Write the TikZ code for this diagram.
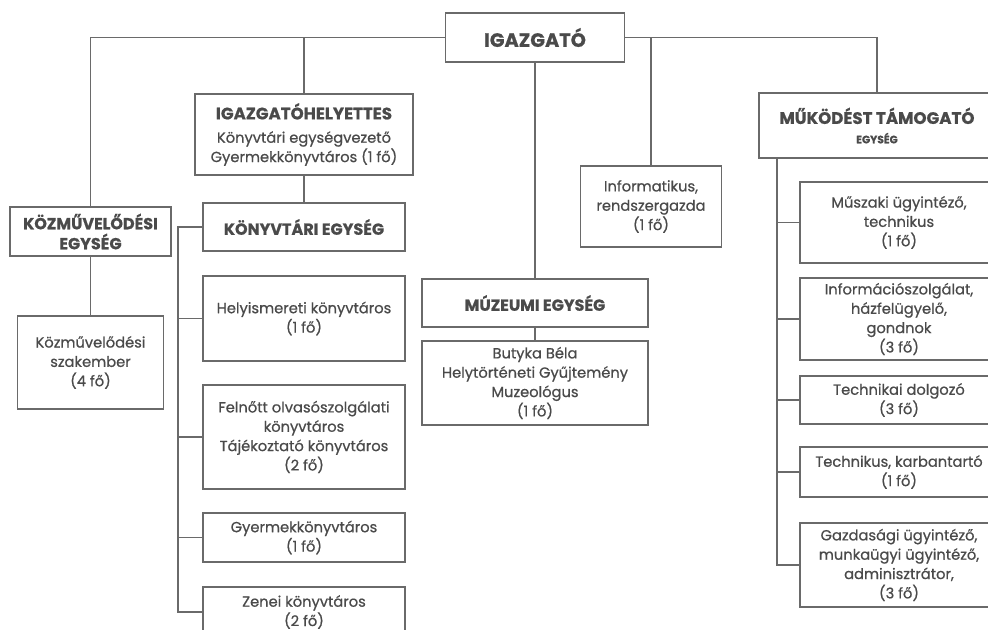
\documentclass[tikz,border=0pt]{standalone}
\usepackage{fontspec}
\setmainfont{Poppins}[FakeBold=0.7]
\definecolor{ln}{HTML}{6A6A6A}
\definecolor{tx}{HTML}{4A4A4A}
\tikzset{
  bx/.style 2 args={draw=ln, line width=1pt, rectangle, inner sep=0pt,
    minimum width=#1*0.75pt, minimum height=#2*0.75pt, align=center, text=tx,
    font=\fontsize{11}{14.5}\selectfont},
  hd/.style={font=\bfseries\fontsize{12}{15}\selectfont},
  conn/.style={draw=ln, line width=1pt}
}
\newcommand{\hdr}[1]{{\bfseries\fontsize{12.5}{15}\selectfont #1}}
\begin{document}
\begin{tikzpicture}[x=0.75pt,y=-0.75pt]
\clip (0,0) rectangle (988,629);
\fill[white] (0,0) rectangle (988,629);
% boxes
\node[bx={179}{49}, font=\bfseries\fontsize{14.5}{18}\selectfont] (igaz) at (535,37.5) {IGAZGATÓ};
\node[bx={218}{81}] (hely) at (304,134.5) {\hdr{IGAZGATÓHELYETTES}\\[3pt]Könyvtári egységvezető\\Gyermekkönyvtáros (1 fő)};
\node[bx={202}{48}, hd] (konyv) at (304,227) {KÖNYVTÁRI EGYSÉG};
\node[bx={161}{49}, hd] (kozm) at (90.5,231.5) {KÖZMŰVELŐDÉSI\\EGYSÉG};
\node[bx={146}{93}] (szak) at (90.5,362.5) {Közművelődési\\szakember\\(4 fő)};
\node[bx={202}{85}] (helyism) at (304,318.5) {Helyismereti könyvtáros\\(1 fő)};
\node[bx={202}{104}] (felnott) at (304,437) {Felnőtt olvasószolgálati\\könyvtáros\\Tájékoztató könyvtáros\\(2 fő)};
\node[bx={202}{49}] (gyermek) at (304,537.5) {Gyermekkönyvtáros\\(1 fő)};
\node[bx={202}{50}] (zenei) at (304,612) {Zenei könyvtáros\\(2 fő)};
\node[bx={226}{48}, hd] (muz) at (535,303) {MÚZEUMI EGYSÉG};
\node[bx={226}{84}] (buty) at (535,383) {Butyka Béla\\Helytörténeti Gyűjtemény\\Muzeológus\\(1 fő)};
\node[bx={141}{81}] (inf) at (651,206.5) {Informatikus,\\rendszergazda\\(1 fő)};
\node[bx={236}{65}] (muk) at (877,125.5) {\hdr{MŰKÖDÉST TÁMOGATÓ}\\{\bfseries\fontsize{8}{10}\selectfont EGYSÉG}};
\node[bx={198}{81}] (musz) at (899,222.5) {Műszaki ügyintéző,\\technikus\\(1 fő)};
\node[bx={198}{82}] (infsz) at (899,319) {Információszolgálat,\\házfelügyelő,\\gondnok\\(3 fő)};
\node[bx={198}{48}] (techd) at (899,400) {Technikai dolgozó\\(3 fő)};
\node[bx={198}{50}] (techk) at (899,472) {Technikus, karbantartó\\(1 fő)};
\node[bx={198}{84}] (gazd) at (899,565) {Gazdasági ügyintéző,\\munkaügyi ügyintéző,\\adminisztrátor,\\(3 fő)};
% connectors
\draw[conn] (igaz.west) -| (kozm.north);
\draw[conn] (hely.north) -- (hely.north |- igaz.west);
\draw[conn] (igaz.east) -| (muk.north);
\draw[conn] (inf.north) -- (inf.north |- igaz.east);
\draw[conn] (igaz.south) -- (muz.north);
\draw[conn] (muz.south) -- (buty.north);
\draw[conn] (hely.south) -- (konyv.north);
\draw[conn] (kozm.south) -- (szak.north);
% library bus
\coordinate (lb) at (178,227);
\draw[conn] (konyv.west) -- (lb) |- (zenei.west);
\draw[conn] (lb |- helyism.west) -- (helyism.west);
\draw[conn] (lb |- felnott.west) -- (felnott.west);
\draw[conn] (lb |- gyermek.west) -- (gyermek.west);
% support bus
\coordinate (rb) at (777,158);
\draw[conn] (rb) |- (gazd.west);
\draw[conn] (rb |- musz.west) -- (musz.west);
\draw[conn] (rb |- infsz.west) -- (infsz.west);
\draw[conn] (rb |- techd.west) -- (techd.west);
\draw[conn] (rb |- techk.west) -- (techk.west);
\end{tikzpicture}
\end{document}
